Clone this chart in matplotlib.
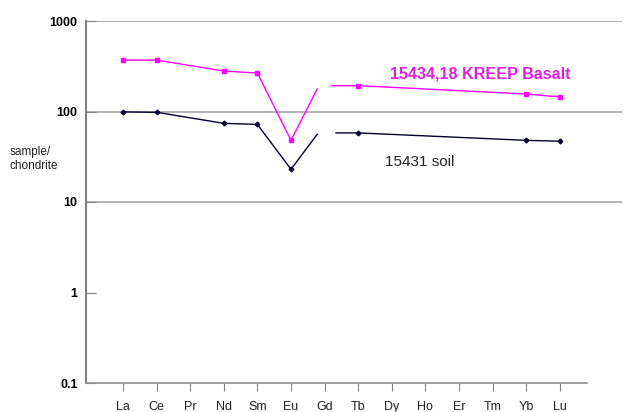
import numpy as np
import matplotlib
matplotlib.use("Agg")
import matplotlib.pyplot as plt

plt.rcParams['font.family'] = ['Liberation Sans', 'DejaVu Sans']

# rare earth elements, chondrite normalised
elements = ["La", "Ce", "Pr", "Nd", "Sm", "Eu", "Gd", "Tb", "Dy", "Ho", "Er", "Tm", "Yb", "Lu"]
measured = ["La", "Ce", "Nd", "Sm", "Eu", "Tb", "Yb", "Lu"]

kreep = [370, 370, 280, 266, 48, 193, 156, 145]
soil = [99, 98, 74, 72, 23, 58, 48, 47]

# Gd not measured: the Eu anomaly line is only sketched toward a guessed value
kreep_gd_guess = 256
soil_gd_guess = 72

xpos = [elements.index(e) for e in measured]
gd = elements.index("Gd")
eu = elements.index("Eu")

fig = plt.figure(figsize=(6.25, 4.12), dpi=100)
ax = fig.add_axes([86 / 625, 29 / 412, (622 - 86) / 625, (383 - 21) / 412])


def draw_series(vals, gd_guess, color, marker, ms, lead):
    n_eu = measured.index("Eu")
    # La .. Eu
    ax.plot(xpos[:n_eu + 1], vals[:n_eu + 1], color=color, lw=1.0,
            marker=marker, ms=ms, zorder=3)
    # Eu -> toward Gd, stopping short
    f = 0.78
    x_end = eu + f * (gd - eu)
    y_end = 10 ** (np.log10(vals[n_eu]) + f * (np.log10(gd_guess) - np.log10(vals[n_eu])))
    ax.plot([eu, x_end], [vals[n_eu], y_end], color=color, lw=1.0, zorder=3)
    # Tb .. Lu, with a short lead-in from the Gd side
    ax.plot([gd + lead] + xpos[n_eu + 1:], [vals[n_eu + 1]] + vals[n_eu + 1:],
            color=color, lw=1.0, zorder=3)
    ax.plot(xpos[n_eu + 1:], vals[n_eu + 1:], ls="none", color=color,
            marker=marker, ms=ms, zorder=4)


draw_series(kreep, kreep_gd_guess, "#ff00ff", "s", 3.5, 0.2)
draw_series(soil, soil_gd_guess, "#000033", "D", 2.4, 0.34)

ax.set_yscale("log")
ax.set_ylim(0.1, 1000)
ax.set_xlim(-1.1, 14.85)

for v in [10, 100, 1000]:
    ax.axhline(v, color="#a6a6a6", lw=1.2, zorder=1)

ax.set_yticks([0.1, 1, 10, 100, 1000])
ax.set_yticklabels(["0.1", "1", "10", "100", "1000"], fontweight="bold", fontsize=9)
ax.yaxis.set_minor_locator(matplotlib.ticker.NullLocator())
ax.tick_params(axis="y", direction="in", length=7, color="#808080", pad=6)

ax.set_xticks(range(len(elements)))
ax.set_xticklabels(elements, fontsize=9, color="#222222")
ax.tick_params(axis="x", direction="out", length=6, color="#808080", pad=7)

for side in ["top", "right"]:
    ax.spines[side].set_visible(False)
ax.spines["left"].set_color("#808080")
ax.spines["left"].set_linewidth(1.5)
ax.spines["bottom"].set_color("#909090")
ax.spines["bottom"].set_linewidth(1.2)
ax.spines["bottom"].set_bounds(-1.1, 13.81)

fig.text(10 / 625, 1 - 159 / 412, "sample/\nchondrite", fontsize=8.5,
         color="#222222", va="center", ha="left", linespacing=1.3)

ax.text(7.95, 258, "15434,18 KREEP Basalt", color="#e020e0", fontsize=11.6,
        fontweight="bold", va="center", ha="left")
ax.text(7.8, 28, "15431 soil", color="#222222", fontsize=11,
        va="center", ha="left")

fig.savefig("out.png", dpi=100)
